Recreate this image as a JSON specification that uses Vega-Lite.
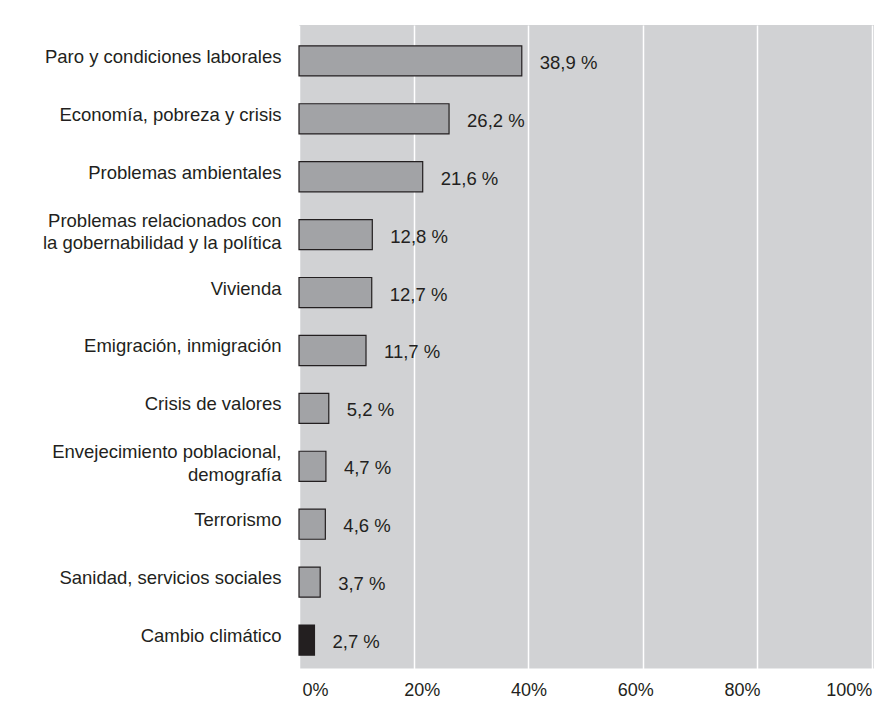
{
  "$schema": "https://vega.github.io/schema/vega-lite/v6.json",
  "autosize": "none",
  "width": 575,
  "height": 644,
  "padding": {"left": 299, "top": 25, "right": 10, "bottom": 45},
  "background": "white",
  "config": {
    "view": {"fill": "#d1d2d4", "stroke": null},
    "font": "Liberation Sans"
  },
  "data": {
    "values": [
      {"tema": "Paro y condiciones laborales", "valor": 38.9, "etiqueta": "38,9 %", "tipo": "otros"},
      {"tema": "Economía, pobreza y crisis", "valor": 26.2, "etiqueta": "26,2 %", "tipo": "otros"},
      {"tema": "Problemas ambientales", "valor": 21.6, "etiqueta": "21,6 %", "tipo": "otros"},
      {"tema": "Problemas relacionados con|la gobernabilidad y la política", "valor": 12.8, "etiqueta": "12,8 %", "tipo": "otros"},
      {"tema": "Vivienda", "valor": 12.7, "etiqueta": "12,7 %", "tipo": "otros"},
      {"tema": "Emigración, inmigración", "valor": 11.7, "etiqueta": "11,7 %", "tipo": "otros"},
      {"tema": "Crisis de valores", "valor": 5.2, "etiqueta": "5,2 %", "tipo": "otros"},
      {"tema": "Envejecimiento poblacional,|demografía", "valor": 4.7, "etiqueta": "4,7 %", "tipo": "otros"},
      {"tema": "Terrorismo", "valor": 4.6, "etiqueta": "4,6 %", "tipo": "otros"},
      {"tema": "Sanidad, servicios sociales", "valor": 3.7, "etiqueta": "3,7 %", "tipo": "otros"},
      {"tema": "Cambio climático", "valor": 2.7, "etiqueta": "2,7 %", "tipo": "clima"}
    ]
  },
  "encoding": {
    "y": {
      "field": "tema",
      "type": "nominal",
      "sort": null,
      "scale": {"paddingInner": 0.48, "paddingOuter": 0.3, "align": 0.6},
      "axis": {
        "title": null,
        "domain": false,
        "ticks": false,
        "labelPadding": 18,
        "labelFontSize": 18.5,
        "labelColor": "#231f20",
        "labelLimit": 400,
        "labelLineHeight": 22.5,
        "labelOffset": {"expr": "indexof(datum.value, '|') >= 0 ? -14 : -4"},
        "labelExpr": "split(datum.label, '|')"
      }
    }
  },
  "layer": [
    {
      "mark": {"type": "bar", "stroke": "#231f20", "strokeWidth": 1.2},
      "encoding": {
        "x": {
          "field": "valor",
          "type": "quantitative",
          "scale": {"domain": [0, 100.4], "nice": false},
          "axis": {
            "title": null,
            "values": [0, 20, 40, 60, 80, 100],
            "labelExpr": "datum.value + '%'",
            "domainColor": "white",
            "domainWidth": 2,
            "ticks": false,
            "grid": true,
            "gridColor": "white",
            "gridWidth": 1.5,
            "gridOpacity": 1,
            "labelFontSize": 18,
            "labelColor": "#231f20",
            "labelPadding": 12,
            "labelFlush": false,
            "labelOffset": {"expr": "16 - datum.value * 0.39"}
          }
        },
        "color": {
          "field": "tipo",
          "type": "nominal",
          "scale": {"domain": ["otros", "clima"], "range": ["#a2a3a6", "#231f20"]},
          "legend": null
        }
      }
    },
    {
      "mark": {"type": "text", "align": "left", "baseline": "middle", "dx": 18, "dy": 2, "fontSize": 18.5, "color": "#231f20"},
      "encoding": {
        "x": {"field": "valor", "type": "quantitative"},
        "text": {"field": "etiqueta"}
      }
    }
  ]
}
